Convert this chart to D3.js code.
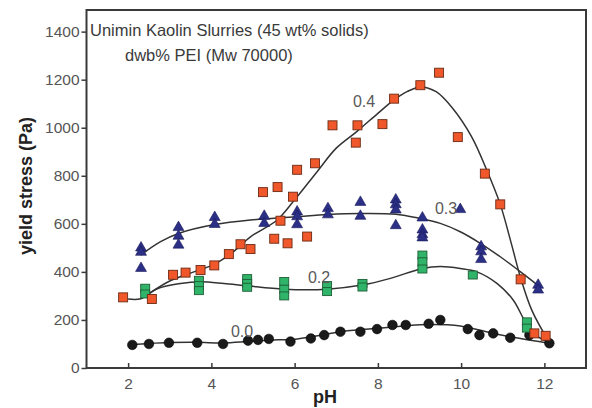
<!DOCTYPE html>
<html><head><meta charset="utf-8">
<script src="https://cdn.jsdelivr.net/npm/d3@7"></script>
<style>body{margin:0;background:#fff}svg{display:block}</style>
</head><body>
<svg id="c" width="592" height="408"></svg>
<script>
// ---- data (pH, yield stress Pa) ----
const xTicks = [2, 4, 6, 8, 10, 12];
const yTicks = [0, 200, 400, 600, 800, 1000, 1200, 1400];
const titleLines = ["Unimin Kaolin Slurries (45 wt% solids)", "dwb% PEI (Mw 70000)"];
const seriesNames = ["0.0", "0.2", "0.3", "0.4"];

const pts00 = [[2.10,96],[2.50,100],[2.98,105],[3.66,105],[4.28,100],[4.88,114],[5.12,117],[5.38,121],[5.90,110],[6.39,123],[6.71,137],[7.10,151],[7.58,151],[7.98,162],[8.35,179],[8.67,179],[9.22,184],[9.50,200],[10.16,162],[10.44,137],[10.77,144],[11.18,126],[11.64,137],[12.12,103]];
const pts02 = [[2.41,332],[2.41,308],[3.70,365],[3.70,343],[3.70,322],[4.86,372],[4.86,352],[4.86,336],[5.75,360],[5.75,328],[5.75,300],[6.78,343],[6.78,318],[7.63,352],[7.63,337],[9.07,470],[9.07,442],[9.07,412],[10.28,387],[11.58,192],[11.58,166]];
const pts03 = [[2.31,500],[2.31,482],[2.31,415],[3.21,585],[3.21,549],[3.21,512],[4.08,627],[4.08,598],[5.27,632],[5.27,602],[6.06,650],[6.06,630],[6.06,597],[6.80,664],[6.80,638],[7.58,690],[7.58,632],[8.43,700],[8.43,680],[8.43,658],[8.43,593],[9.07,625],[9.07,575],[9.07,555],[9.07,542],[9.98,660],[10.48,505],[10.48,484],[10.48,452],[11.85,345],[11.85,325]];
const pts04 = [[1.88,294],[2.57,287],[3.08,388],[3.38,397],[3.74,408],[4.07,427],[4.42,474],[4.70,515],[4.94,495],[5.24,732],[5.51,538],[5.59,753],[5.66,613],[5.83,519],[5.96,713],[6.06,825],[6.30,547],[6.49,852],[6.91,1010],[7.47,938],[7.51,1010],[8.11,1015],[8.39,1121],[9.02,1177],[9.47,1229],[9.92,961],[10.57,809],[10.94,681],[11.43,369],[11.76,144],[12.03,134]];

// fitted curves
const fit00 = [[2.1,97],[2.5,102],[3.0,106],[3.66,107],[4.28,104],[4.88,110],[5.5,117],[5.9,118],[6.4,130],[7.1,151],[7.98,165],[8.67,176],[9.22,181],[9.98,175],[10.77,144],[11.25,128],[12.12,103]];
const fit02 = [[2.0,287],[2.3,288],[2.7,330],[3.26,352],[3.74,359],[4.3,352],[4.86,342],[5.75,328],[6.78,328],[7.62,345],[8.3,373],[9.07,414],[9.5,422],[9.98,414],[10.38,400],[10.86,352],[11.25,283],[11.5,205],[11.7,148],[12.1,108]];
const fit03 = [[2.3,470],[2.78,526],[3.21,560],[4.08,597],[4.94,616],[5.27,620],[6.06,630],[6.80,639],[7.58,643],[8.43,640],[8.94,625],[9.5,602],[9.98,567],[10.46,519],[10.94,463],[11.42,401],[11.86,342]];
const fit04 = [[2.42,300],[3.0,362],[3.5,395],[4.05,430],[4.5,480],[4.94,546],[5.58,616],[6.0,700],[6.54,817],[7.0,915],[7.5,985],[8.0,1060],[8.38,1115],[8.7,1150],[9.02,1170],[9.4,1150],[9.8,1080],[10.26,960],[10.6,830],[10.94,681],[11.2,522],[11.43,375],[11.7,240],[12.09,115]];

const labelPos = [[242,336.5],[319,283],[446,214],[364,107]];

// ---- drawing ----
const svg = d3.select("#c");
const x = d3.scaleLinear().domain([1, 13]).range([86.5, 586]);
const y = d3.scaleLinear().domain([0, 1490]).range([368, 10]);
const font = "'Liberation Sans', Arial, Helvetica, sans-serif";

// curves
const line = d3.line().x(d => x(d[0])).y(d => y(d[1])).curve(d3.curveCatmullRom.alpha(0.5));
const g = svg.append("g");
[fit00, fit02, fit03, fit04].forEach(f => {
  g.append("path").attr("d", line(f)).attr("fill", "none")
    .attr("stroke", "#333").attr("stroke-width", 1.5);
});

// markers
g.selectAll("circle.s0").data(pts00).join("circle")
  .attr("cx", d => x(d[0])).attr("cy", d => y(d[1])).attr("r", 4.8)
  .attr("fill", "#1a1a1a").attr("stroke", "#000").attr("stroke-width", 0.6);
g.selectAll("rect.s2").data(pts02).join("rect")
  .attr("x", d => x(d[0]) - 4.5).attr("y", d => y(d[1]) - 4).attr("width", 9).attr("height", 8)
  .attr("fill", "#2fb46a").attr("stroke", "#1d5e35").attr("stroke-width", 0.9);
const tri = d3.symbol().type(d3.symbolTriangle).size(52);
g.selectAll("path.s3").data(pts03).join("path")
  .attr("d", tri).attr("transform", d => `translate(${x(d[0])},${y(d[1])})`)
  .attr("fill", "#2b2f85").attr("stroke", "#1a1a5a").attr("stroke-width", 0.6);
g.selectAll("rect.s4").data(pts04).join("rect")
  .attr("x", d => x(d[0]) - 4.5).attr("y", d => y(d[1]) - 4.5).attr("width", 9).attr("height", 9)
  .attr("fill", "#f0572a").attr("stroke", "#6b2a14").attr("stroke-width", 0.9);

// frame
svg.append("rect").attr("x", x.range()[0]).attr("y", y.range()[1])
  .attr("width", x.range()[1] - x.range()[0]).attr("height", y.range()[0] - y.range()[1])
  .attr("fill", "none").attr("stroke", "#3a3a3a").attr("stroke-width", 2);

// y axis
const ya = svg.append("g").attr("transform", `translate(${x.range()[0]},0)`)
  .call(d3.axisLeft(y).tickValues(yTicks).tickSize(5).tickPadding(2).tickFormat(d3.format("d")));
ya.select(".domain").remove();
ya.selectAll(".tick line").attr("stroke", "#3a3a3a").attr("stroke-width", 1.5);
ya.selectAll(".tick text").attr("fill", "#555").style("font", `15.5px ${font}`);

// x axis (ticks inward)
const xa = svg.append("g").attr("transform", `translate(0,${y.range()[0]})`)
  .call(d3.axisBottom(x).tickValues(xTicks).tickSize(-5).tickPadding(10));
xa.select(".domain").remove();
xa.selectAll(".tick line").attr("stroke", "#3a3a3a").attr("stroke-width", 1.5);
xa.selectAll(".tick text").attr("fill", "#555").style("font", `15.5px ${font}`);

// axis titles
svg.append("text").attr("x", 325).attr("y", 403).attr("text-anchor", "middle")
  .style("font", `bold 18px ${font}`).attr("fill", "#222").text("pH");
svg.append("text").attr("transform", "translate(32,186) rotate(-90)").attr("text-anchor", "middle")
  .style("font", `bold 18px ${font}`).attr("fill", "#222").text("yield stress (Pa)");

// title
svg.append("text").attr("x", 90).attr("y", 35.5).style("font", `16.5px ${font}`).attr("fill", "#3a3a3a").text(titleLines[0]);
svg.append("text").attr("x", 125).attr("y", 60.5).style("font", `16.5px ${font}`).attr("fill", "#3a3a3a").text(titleLines[1]);

// series labels
seriesNames.forEach((s, i) => {
  svg.append("text").attr("x", labelPos[i][0]).attr("y", labelPos[i][1]).attr("text-anchor", "middle")
    .style("font", `16px ${font}`).attr("fill", "#5a5a5a").text(s);
});
</script>
</body></html>
